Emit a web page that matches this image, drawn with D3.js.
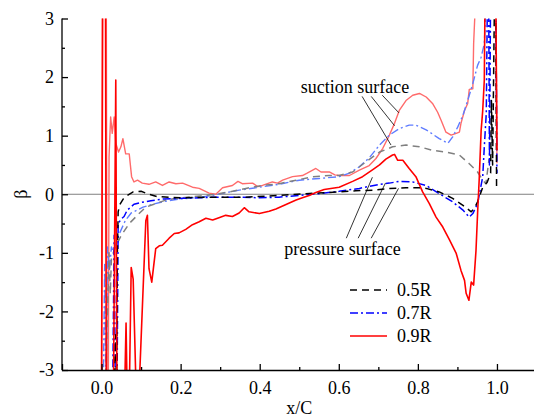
<!DOCTYPE html>
<html>
<head>
<meta charset="utf-8">
<script src="https://cdn.jsdelivr.net/npm/d3@7"></script>
<style>
    body { margin: 0; background: #ffffff; }
    svg { display: block; font-family: "Liberation Serif", "Times New Roman", serif; }
    .axis path, .axis line { stroke: #000; stroke-width: 1.3; }
    .axis text { font-size: 18px; fill: #000; font-family: "Liberation Serif", serif; }
    .curve { fill: none; }
    .label { font-size: 18px; fill: #000; }
</style>
</head>
<body>
<svg id="chart" width="534" height="419"></svg>
<script>
"use strict";

// chord positions x/C and beta (values past +-3 are clipped)
const suction05 = [
    [0.010, -3.5], [0.015, -2.0], [0.019, -1.0], [0.022, -1.7], [0.025, -1.1], [0.035, -0.9], [0.050, -0.7],
    [0.070, -0.5], [0.095, -0.33], [0.112, -0.22], [0.137, -0.16], [0.162, -0.10], [0.188, -0.07], [0.250, -0.03],
    [0.290, 0.0], [0.323, 0.04], [0.365, 0.10], [0.407, 0.15], [0.449, 0.18], [0.492, 0.24], [0.534, 0.30],
    [0.576, 0.32], [0.601, 0.32], [0.635, 0.38], [0.668, 0.55], [0.703, 0.72], [0.736, 0.81], [0.770, 0.84],
    [0.804, 0.81], [0.837, 0.75], [0.871, 0.72], [0.905, 0.67], [0.930, 0.52], [0.951, 0.38], [0.964, 0.24],
    [0.972, 0.18], [0.980, 0.6]
];
const pressure05 = [
    [0.030, -3.5], [0.036, -2.4], [0.038, -3.5], [0.040, -1.0], [0.042, -0.3], [0.046, -0.18], [0.055, -0.08],
    [0.065, -0.02], [0.080, 0.04], [0.100, 0.05], [0.120, 0.0], [0.140, -0.04], [0.200, -0.06], [0.281, -0.05],
    [0.365, -0.05], [0.449, -0.02], [0.517, 0.01], [0.601, 0.04], [0.643, 0.06], [0.686, 0.07], [0.728, 0.10],
    [0.770, 0.11], [0.804, 0.11], [0.821, 0.10], [0.854, 0.04], [0.888, -0.07], [0.914, -0.19], [0.935, -0.30],
    [0.943, -0.24], [0.951, -0.13], [0.964, 0.12], [0.975, 0.2], [0.984, 0.36], [0.986, 1.6], [0.989, 0.5],
    [0.994, 3.5], [0.997, 3.5], [0.999, 0.12]
];
const suction07 = [
    [0.004, -3.5], [0.008, -1.2], [0.011, -3.5], [0.015, -0.9], [0.020, -1.3], [0.025, -0.9], [0.030, -1.0],
    [0.040, -0.75], [0.050, -0.6], [0.060, -0.45], [0.075, -0.32], [0.090, -0.27], [0.105, -0.22], [0.130, -0.17],
    [0.160, -0.12], [0.200, -0.08], [0.250, -0.05], [0.280, -0.02], [0.310, 0.02], [0.348, 0.07], [0.399, 0.12],
    [0.449, 0.17], [0.500, 0.24], [0.551, 0.27], [0.601, 0.30], [0.627, 0.36], [0.652, 0.47], [0.677, 0.62],
    [0.703, 0.84], [0.728, 1.01], [0.753, 1.12], [0.778, 1.18], [0.795, 1.18], [0.821, 1.10], [0.854, 0.95],
    [0.876, 0.87], [0.888, 0.98], [0.901, 1.15], [0.914, 1.35], [0.926, 1.60], [0.939, 1.89], [0.951, 2.20],
    [0.960, 2.34], [0.968, 2.57], [0.974, 3.5]
];
const pressure07 = [
    [0.028, -3.5], [0.032, -0.7], [0.035, -3.5], [0.039, -3.5], [0.042, -0.5], [0.050, -0.42], [0.057, -0.38],
    [0.065, -0.27], [0.074, -0.22], [0.082, -0.17], [0.100, -0.14], [0.125, -0.11], [0.158, -0.08], [0.205, -0.07],
    [0.247, -0.06], [0.289, -0.05], [0.348, -0.05], [0.399, -0.06], [0.449, -0.05], [0.500, -0.02], [0.551, 0.01],
    [0.601, 0.05], [0.652, 0.10], [0.703, 0.17], [0.728, 0.19], [0.753, 0.22], [0.787, 0.21], [0.821, 0.15],
    [0.854, 0.01], [0.888, -0.13], [0.914, -0.27], [0.930, -0.39], [0.939, -0.33], [0.951, -0.16], [0.964, 0.30],
    [0.968, 0.81], [0.973, 1.38], [0.976, 3.5], [0.979, 3.5], [0.981, 0.5], [0.984, 3.5], [0.997, 3.5], [1.0, 0.36]
];
const suction09 = [
    [0.000, -3.5], [0.002, 3.5], [0.012, 3.5], [0.014, -3.5], [0.017, -3.5], [0.019, 0.64], [0.023, 1.32],
    [0.027, 1.04], [0.032, 1.32], [0.036, 0.87], [0.043, 0.72], [0.049, 0.81], [0.054, 0.95], [0.061, 0.69],
    [0.070, 0.69], [0.076, 0.30], [0.082, 0.21], [0.091, 0.24], [0.103, 0.19], [0.120, 0.17], [0.137, 0.21],
    [0.154, 0.15], [0.171, 0.21], [0.188, 0.18], [0.205, 0.19], [0.230, 0.12], [0.247, 0.10], [0.272, 0.02],
    [0.289, 0.0], [0.306, 0.11], [0.331, 0.15], [0.345, 0.22], [0.356, 0.18], [0.382, 0.19], [0.395, 0.13],
    [0.407, 0.15], [0.432, 0.21], [0.445, 0.19], [0.458, 0.24], [0.483, 0.30], [0.508, 0.32], [0.520, 0.36],
    [0.534, 0.41], [0.542, 0.44], [0.555, 0.38], [0.576, 0.38], [0.590, 0.33], [0.601, 0.32], [0.627, 0.32],
    [0.652, 0.41], [0.677, 0.49], [0.694, 0.61], [0.711, 0.78], [0.728, 1.01],
    [0.741, 1.21], [0.753, 1.43], [0.770, 1.60], [0.787, 1.69], [0.804, 1.72], [0.821, 1.66], [0.837, 1.55],
    [0.850, 1.40], [0.859, 1.26], [0.871, 1.06], [0.884, 1.01], [0.897, 1.04], [0.905, 1.06], [0.909, 1.21],
    [0.918, 1.43], [0.926, 1.55], [0.930, 1.79], [0.939, 1.80], [0.941, 2.57], [0.947, 3.5], [0.997, 3.5],
    [1.0, 0.53]
];
const pressure09 = [
    [0.000, -3.5], [0.003, 3.5], [0.010, 3.5], [0.012, -3.5], [0.030, -3.5], [0.036, 1.95], [0.039, -3.5],
    [0.058, -3.5], [0.062, -2.2], [0.065, -3.5], [0.070, -3.5], [0.075, -1.25], [0.080, -1.45], [0.088, -3.5],
    [0.094, -3.5], [0.104, -1.8], [0.112, -0.45], [0.116, -0.36], [0.120, -1.27], [0.127, -1.50], [0.137, -0.93],
    [0.146, -0.88], [0.154, -0.87], [0.171, -0.75], [0.184, -0.67], [0.196, -0.66], [0.213, -0.60], [0.230, -0.52],
    [0.247, -0.47], [0.264, -0.41], [0.281, -0.44], [0.297, -0.40], [0.314, -0.36], [0.331, -0.38], [0.348, -0.32],
    [0.361, -0.23], [0.373, -0.30], [0.399, -0.33], [0.424, -0.29], [0.441, -0.25], [0.458, -0.20], [0.475, -0.15],
    [0.492, -0.10], [0.508, -0.06], [0.525, -0.02], [0.542, 0.03], [0.563, 0.08], [0.601, 0.12], [0.635, 0.22],
    [0.660, 0.30], [0.686, 0.42], [0.703, 0.50], [0.719, 0.60], [0.736, 0.67], [0.741, 0.68], [0.749, 0.58],
    [0.762, 0.58], [0.778, 0.44], [0.795, 0.30], [0.812, 0.04], [0.829, -0.16], [0.846, -0.39], [0.863, -0.56],
    [0.880, -0.78], [0.897, -1.01], [0.909, -1.30], [0.918, -1.47], [0.922, -1.69], [0.929, -1.81], [0.935, -1.50],
    [0.941, -1.55], [0.947, -0.96], [0.951, -0.33], [0.955, 0.24], [0.960, 1.09], [0.964, 1.43], [0.968, 1.95],
    [0.970, 3.5], [0.997, 3.5], [1.0, 0.75]
];

const xMajorTicks = [0.0, 0.2, 0.4, 0.6, 0.8, 1.0];
const xMinorTicks = [0.1, 0.3, 0.5, 0.7, 0.9];
const yMajorTicks = [-3, -2, -1, 0, 1, 2, 3];
const yMinorTicks = [-2.5, -1.5, -0.5, 0.5, 1.5, 2.5];

const legendNames = ['0.5R', '0.7R', '0.9R'];

// annotation leader lines, [from, to] in data units
const suctionLeaders = [[[0.659, 1.67], [0.732, 0.84]], [[0.682, 1.67], [0.741, 1.17]], [[0.710, 1.69], [0.752, 1.39]]];
const pressureLeaders = [[[0.619, -0.75], [0.685, 0.29]], [[0.649, -0.75], [0.718, 0.19]], [[0.682, -0.75], [0.751, 0.10]]];

const STYLES = {
    black: { color: '#000000', dash: '7,5', width: 1.5 },
    gray: { color: '#808080', dash: '7,5', width: 1.5 },
    blue: { color: '#0000ff', dash: '8,3,2,3', width: 1.5 },
    lightBlue: { color: '#5f7cff', dash: '8,3,2,3', width: 1.4 },
    red: { color: '#ff0000', dash: null, width: 1.6 },
    lightRed: { color: '#ff6b6b', dash: null, width: 1.4 },
};

const LEFT = 62, RIGHT = 536.5, TOP = 18.5, BOTTOM = 370;

const svg = d3.select('#chart');

const xScale = d3.scaleLinear().domain([-0.1, 1.1]).range([LEFT, RIGHT]);
const yScale = d3.scaleLinear().domain([-3, 3]).range([BOTTOM, TOP]);

svg.append('defs').append('clipPath').attr('id', 'plot-clip')
    .append('rect')
    .attr('x', LEFT).attr('y', TOP)
    .attr('width', RIGHT - LEFT).attr('height', BOTTOM - TOP);

// zero reference line
svg.append('line')
    .attr('x1', xScale(-0.1)).attr('x2', xScale(1.1))
    .attr('y1', yScale(0)).attr('y2', yScale(0))
    .attr('stroke', '#808080').attr('stroke-width', 1);

const lineFunction = d3.line().x(d => xScale(d[0])).y(d => yScale(d[1]));

const curves = svg.append('g').attr('clip-path', 'url(#plot-clip)');

function drawCurve(data, style) {
    curves.append('path')
        .datum(data)
        .classed('curve', true)
        .attr('d', lineFunction)
        .attr('stroke', style.color)
        .attr('stroke-width', style.width)
        .attr('stroke-dasharray', style.dash)
        .attr('stroke-linejoin', 'round');
}

drawCurve(suction09, STYLES.lightRed);
drawCurve(suction07, STYLES.lightBlue);
drawCurve(suction05, STYLES.gray);
drawCurve(pressure07, STYLES.blue);
drawCurve(pressure05, STYLES.black);
drawCurve(pressure09, STYLES.red);

// axes, ticks pointing inwards
svg.append('g').classed('axis', true)
    .attr('transform', `translate(0,${BOTTOM})`)
    .call(d3.axisBottom(xScale).tickValues(xMajorTicks).tickSize(-6).tickPadding(7)
        .tickFormat(d3.format('.1f')))
    .call(g => g.selectAll('text').attr('dy', '0.95em'));
svg.append('g').classed('axis', true)
    .attr('transform', `translate(0,${BOTTOM})`)
    .call(d3.axisBottom(xScale).tickValues(xMinorTicks).tickSize(-3).tickFormat(''))
    .call(g => g.select('.domain').remove());

svg.append('g').classed('axis', true)
    .attr('transform', `translate(${LEFT},0)`)
    .call(d3.axisLeft(yScale).tickValues(yMajorTicks).tickSize(-6).tickPadding(8)
        .tickFormat(d => String(d)))
    .call(g => g.select('.domain').attr('d', `M0,${TOP}V${BOTTOM}`));
svg.append('g').classed('axis', true)
    .attr('transform', `translate(${LEFT},0)`)
    .call(d3.axisLeft(yScale).tickValues(yMinorTicks).tickSize(-3).tickFormat(''))
    .call(g => g.select('.domain').remove());

// axis titles
svg.append('text').classed('label', true)
    .attr('x', xScale(0.5)).attr('y', 414)
    .attr('text-anchor', 'middle')
    .text('x/C');
svg.append('text').classed('label', true)
    .attr('transform', `translate(27,${yScale(0)}) rotate(-90)`)
    .attr('text-anchor', 'middle')
    .text('β');

// annotations
svg.append('text').classed('label', true)
    .attr('x', xScale(0.504)).attr('y', yScale(1.72))
    .text('suction surface');
svg.append('text').classed('label', true)
    .attr('x', xScale(0.462)).attr('y', yScale(-1.03))
    .text('pressure surface');

for (const leader of suctionLeaders.concat(pressureLeaders)) {
    svg.append('line')
        .attr('x1', xScale(leader[0][0])).attr('y1', yScale(leader[0][1]))
        .attr('x2', xScale(leader[1][0])).attr('y2', yScale(leader[1][1]))
        .attr('stroke', '#000').attr('stroke-width', 0.8);
}

// legend
const legendStyles = [STYLES.black, STYLES.blue, STYLES.red];
const legend = svg.append('g').attr('transform', 'translate(350,290)');
legendNames.forEach((name, i) => {
    const row = legend.append('g').attr('transform', `translate(0,${i * 23})`);
    const style = legendStyles[i];
    row.append('line')
        .attr('x1', 0).attr('x2', 37).attr('y1', 0).attr('y2', 0)
        .attr('stroke', style.color)
        .attr('stroke-width', style.width)
        .attr('stroke-dasharray', style.dash);
    row.append('text').classed('label', true)
        .attr('x', 47).attr('y', 6)
        .text(name);
});
</script>
</body>
</html>
